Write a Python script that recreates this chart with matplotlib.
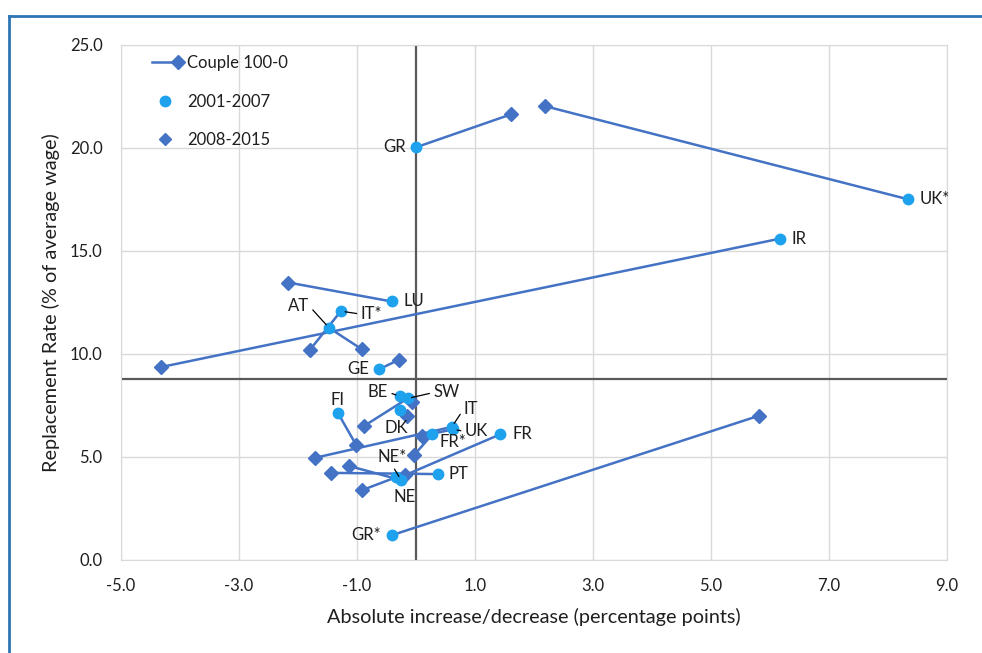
import matplotlib
matplotlib.use("Agg")
import matplotlib.pyplot as plt
from matplotlib.lines import Line2D
from matplotlib.legend_handler import HandlerBase

# ---------------- data ----------------
countries = ["GR", "UK*", "IR", "LU", "IT*", "AT", "GE", "BE", "SW", "DK",
             "FI", "IT", "UK", "FR*", "NE*", "NE", "PT", "FR", "GR*"]
# 2001-2007 (circle)
x0107 = [0.00, 8.34, 6.17, -0.41, -1.27, -1.47, -0.62, -0.27, -0.14, -0.27,
         -1.32, 0.61, 0.63, 0.28, -0.25, -0.34, 0.38, 1.43, -0.40]
y0107 = [20.03, 17.51, 15.60, 12.55, 12.08, 11.27, 9.26, 7.95, 7.84, 7.27,
         7.14, 6.46, 6.34, 6.10, 3.88, 4.01, 4.17, 6.10, 1.21]
# 2008-2015 (diamond)
x0815 = [1.61, 2.19, -4.31, -2.16, -1.80, -0.91, -0.28, -0.06, -0.88, -0.15,
         -1.01, -1.71, 0.11, -0.03, -1.14, -0.91, -1.44, -0.18, 5.81]
y0815 = [21.63, 22.03, 9.37, 13.47, 10.18, 10.22, 9.73, 7.65, 6.50, 7.00,
         5.58, 4.96, 6.03, 5.09, 4.57, 3.39, 4.23, 4.12, 7.00]
ref_x = 0.0
ref_y = 8.78
xticks = [-5.0, -3.0, -1.0, 1.0, 3.0, 5.0, 7.0, 9.0]
yticks = [0.0, 5.0, 10.0, 15.0, 20.0, 25.0]
legend_labels = ["Couple 100-0", "2001-2007", "2008-2015"]

# label placement (pixel offsets from circle), alignment, leader relpos
label_style = {
    "GR":  ((-10, 0), "right", "center", None),
    "UK*": ((12, 0), "left", "center", None),
    "IR":  ((12, 0), "left", "center", None),
    "LU":  ((12, 0), "left", "center", None),
    "IT*": ((20, -3), "left", "center", (0, 0.5)),
    "AT":  ((-20, 22), "right", "center", (1, 0.5)),
    "GE":  ((-10, 0), "right", "center", None),
    "BE":  ((-12, 4), "right", "center", (1, 0.5)),
    "SW":  ((26, 6), "left", "center", (0, 0.5)),
    "DK":  ((-4, -18), "center", "center", None),
    "FI":  ((0, 13), "center", "center", None),
    "IT":  ((12, 18), "left", "center", (0, 0.5)),
    "UK":  ((12, -2), "left", "center", (0, 0.5)),
    "FR*": ((21, -8), "center", "center", None),
    "NE*": ((-9, 23), "center", "center", (0.5, 0)),
    "NE":  ((9, -20), "center", "center", None),
    "PT":  ((10, 0), "left", "center", None),
    "FR":  ((12, 0), "left", "center", None),
    "GR*": ((-11, 0), "right", "center", None),
}

line_c = "#4472C4"
circ_c = "#1FA2EE"
txt_c = "#1F1F1F"
plt.rcParams["font.family"] = ["Lato", "DejaVu Sans"]

fig = plt.figure(figsize=(9.82, 6.53), dpi=100)
ax = fig.add_axes([120.7 / 982, 1 - 560 / 653, 826.3 / 982, 515 / 653])

ax.set_xlim(-5, 9)
ax.set_ylim(0, 25)
ax.set_xticks(xticks)
ax.set_yticks(yticks)
ax.set_xticklabels([f"{v:.1f}" for v in xticks])
ax.set_yticklabels([f"{v:.1f}" for v in yticks])
ax.grid(True, color="#D9D9D9", lw=1)
ax.set_axisbelow(True)
for s in ax.spines.values():
    s.set_color("#D9D9D9")
ax.tick_params(axis="x", length=0, labelsize=12, colors=txt_c, pad=13)
ax.tick_params(axis="y", length=0, labelsize=12, colors=txt_c, pad=13)

ax.axvline(ref_x, color="#595959", lw=1.6, zorder=1)
ax.axhline(ref_y, color="#595959", lw=1.6, zorder=1)

for i in range(len(countries)):
    ax.plot([x0107[i], x0815[i]], [y0107[i], y0815[i]], color=line_c, lw=1.8,
            zorder=2)
ax.plot(x0815, y0815, ls="none", marker="D", ms=7, color=line_c, zorder=3)
ax.plot(x0107, y0107, ls="none", marker="o", ms=7.5, color=circ_c, zorder=4)

for i, c in enumerate(countries):
    off, ha, va, rel = label_style[c]
    kw = {}
    if rel is not None:
        kw["arrowprops"] = dict(arrowstyle="-", color="black", lw=0.9,
                                shrinkA=1, shrinkB=3, relpos=rel)
    ax.annotate(c, (x0107[i], y0107[i]), xytext=off, textcoords="offset pixels",
                ha=ha, va=va, fontsize=12, color=txt_c, zorder=5, **kw)

ax.set_xlabel("Absolute increase/decrease (percentage points)", fontsize=14.3,
              color=txt_c, labelpad=10)
ax.set_ylabel("Replacement Rate (% of average wage)", fontsize=14.3,
              color=txt_c, labelpad=7)


class LineRightMarker(HandlerBase):
    def create_artists(self, legend, orig_handle, xdescent, ydescent, width,
                       height, fontsize, trans):
        y = height / 2 - ydescent
        x0, x1 = -xdescent, width - xdescent
        ln = Line2D([x0, x1], [y, y], color=line_c, lw=1.8)
        mk = Line2D([x1], [y], ls="none", marker="D", ms=7, color=line_c)
        ln.set_transform(trans)
        mk.set_transform(trans)
        return [ln, mk]


h_line = Line2D([], [], color=line_c, lw=1.8, marker="D", ms=7)
handles = [
    h_line,
    Line2D([], [], ls="none", marker="o", ms=7.5, color=circ_c),
    Line2D([], [], ls="none", marker="D", ms=6, color=line_c),
]
leg = ax.legend(handles, legend_labels, handler_map={h_line: LineRightMarker()},
                loc="upper left", bbox_to_anchor=(0.038, 0.98), frameon=False,
                fontsize=12, labelspacing=1.35, handlelength=1.55,
                handletextpad=0.55, borderaxespad=0, borderpad=0)
for t in leg.get_texts():
    t.set_color(txt_c)

# outer frame lines (blue)
fig.add_artist(Line2D([9 / 982, 9 / 982], [0, 1 - 16 / 653],
                      transform=fig.transFigure, color="#2E75B6", lw=2))
fig.add_artist(Line2D([9 / 982, 1], [1 - 16 / 653, 1 - 16 / 653],
                      transform=fig.transFigure, color="#2E75B6", lw=2))

fig.savefig("out.png", dpi=100)
